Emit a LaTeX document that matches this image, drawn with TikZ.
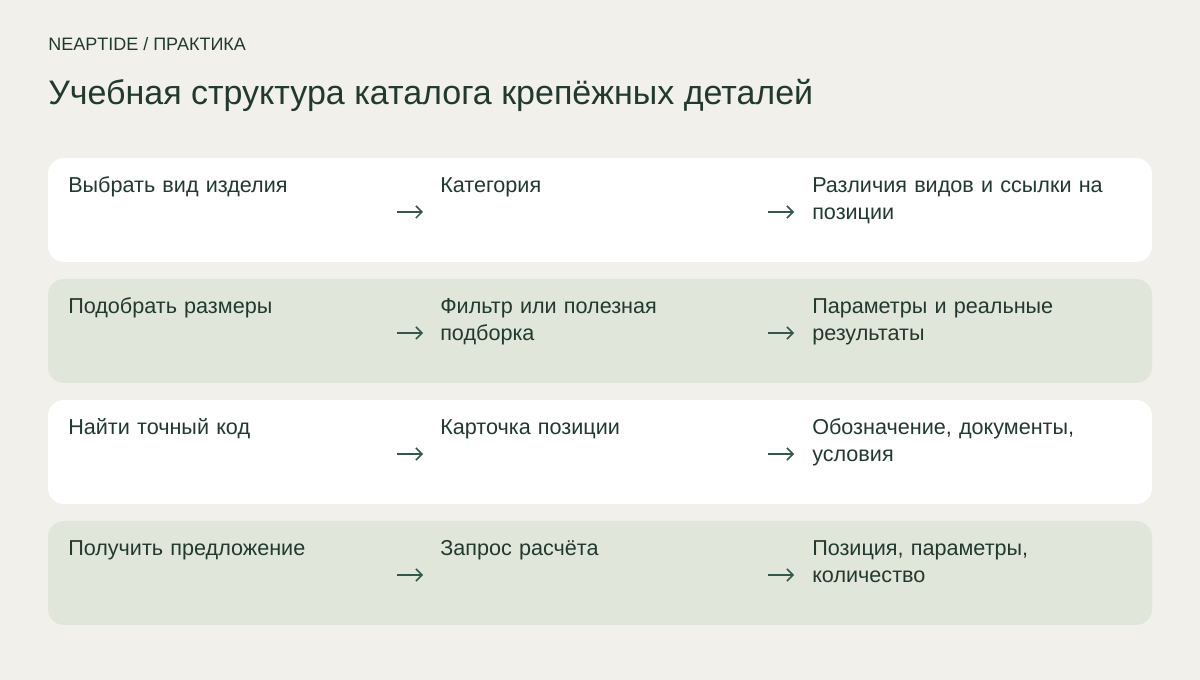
\documentclass[tikz,border=0pt]{standalone}
\usepackage{fontspec}
\setmainfont{Liberation Sans}
\usetikzlibrary{arrows.meta}
\definecolor{bg}{HTML}{F1F0EB}
\definecolor{rowgreen}{HTML}{E0E6D9}
\definecolor{ink}{HTML}{22392F}
\definecolor{arrowink}{HTML}{33574A}
\begin{document}
\begin{tikzpicture}[x=0.75pt,y=-0.75pt,
    cell/.style={anchor=base west,inner sep=0pt,text width=260pt,align=left,
        text=ink,font=\fontsize{16.2}{20.25}\selectfont},
    rowbox/.style={rounded corners=12pt},
    arr/.style={draw=arrowink,line width=1.1pt,-{Straight Barb[length=4.5pt,width=9pt]}}]
             % canvas
             \fill[bg] (0,0) rectangle (1200,680);
             \useasboundingbox (0,0) rectangle (1200,680);
             % header
             \node[anchor=base west,inner sep=0pt,text=ink,font=\fontsize{13.5}{16}\selectfont] (kicker) at (48,51) {NEAPTIDE / ПРАКТИКА};
             \node[anchor=base west,inner sep=0pt,text=ink,font=\fontsize{25.5}{30}\selectfont] (title) at (48,105) {Учебная структура каталога крепёжных деталей};
             % rows
             \fill[white,rowbox] (48,158) rectangle (1152,262);
             \fill[rowgreen,rowbox] (48,279) rectangle (1152,383);
             \fill[white,rowbox] (48,400) rectangle (1152,504);
             \fill[rowgreen,rowbox] (48,521) rectangle (1152,625);
             % row 1
             \node[cell] (goal1) at (68,193) {Выбрать вид изделия};
             \node[cell] (where1) at (440,193) {Категория};
             \node[cell] (what1) at (812,193) {Различия видов и ссылки на\\позиции};
             \coordinate (a1s) at (397,212); \coordinate (a1e) at (423,212);
             \coordinate (b1s) at (768,212); \coordinate (b1e) at (794,212);
             \draw[arr] (a1s) -- (a1e);
             \draw[arr] (b1s) -- (b1e);
             % row 2
             \node[cell] (goal2) at (68,314) {Подобрать размеры};
             \node[cell] (where2) at (440,314) {Фильтр или полезная\\подборка};
             \node[cell] (what2) at (812,314) {Параметры и реальные\\результаты};
             \coordinate (a2s) at (397,333); \coordinate (a2e) at (423,333);
             \coordinate (b2s) at (768,333); \coordinate (b2e) at (794,333);
             \draw[arr] (a2s) -- (a2e);
             \draw[arr] (b2s) -- (b2e);
             % row 3
             \node[cell] (goal3) at (68,435) {Найти точный код};
             \node[cell] (where3) at (440,435) {Карточка позиции};
             \node[cell] (what3) at (812,435) {Обозначение, документы,\\условия};
             \coordinate (a3s) at (397,454); \coordinate (a3e) at (423,454);
             \coordinate (b3s) at (768,454); \coordinate (b3e) at (794,454);
             \draw[arr] (a3s) -- (a3e);
             \draw[arr] (b3s) -- (b3e);
             % row 4
             \node[cell] (goal4) at (68,556) {Получить предложение};
             \node[cell] (where4) at (440,556) {Запрос расчёта};
             \node[cell] (what4) at (812,556) {Позиция, параметры,\\количество};
             \coordinate (a4s) at (397,575); \coordinate (a4e) at (423,575);
             \coordinate (b4s) at (768,575); \coordinate (b4e) at (794,575);
             \draw[arr] (a4s) -- (a4e);
             \draw[arr] (b4s) -- (b4e);
\end{tikzpicture}
\end{document}
